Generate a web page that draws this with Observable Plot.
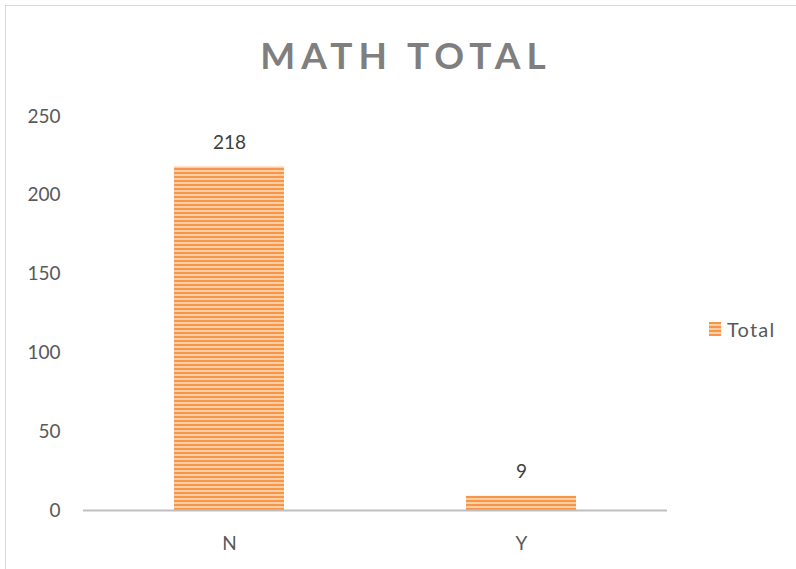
<!DOCTYPE html>
<html>
<head>
<meta charset="utf-8">
<script src="https://cdn.jsdelivr.net/npm/d3@7"></script>
<script src="https://cdn.jsdelivr.net/npm/@observablehq/plot@0.6"></script>
<style>
  html, body { margin: 0; padding: 0; background: #fff; }
  #wrap { position: relative; width: 796px; height: 569px; overflow: hidden; font-family: Lato, "Open Sans", sans-serif; }
  #frame { position: absolute; left: 5px; top: 5px; width: 900px; height: 700px; border: 1px solid #D9D9D9; box-sizing: border-box; }
  #title { position: absolute; left: 6px; width: 800px; top: 32px; text-align: center; font-size: 37px; font-weight: bold; letter-spacing: 6px; color: #7F7F7F; }
  #legend { position: absolute; left: 709px; top: 317px; display: flex; align-items: center; font-size: 20px; letter-spacing: 1.2px; color: #595959; }
  #legend .sw { width: 12px; height: 14px; margin-right: 6px; background: repeating-linear-gradient(to bottom, #F7964A 0px, #F7964A 2px, #FCCEA3 2px, #FCCEA3 4px); }
  #chart { position: absolute; left: 0; top: 0; }
</style>
</head>
<body>
<div id="wrap">
  <div id="frame"></div>
  <div id="chart"></div>
  <div id="title">MATH TOTAL</div>
  <div id="legend"><div class="sw"></div><span>Total</span></div>
</div>
<script>
const categories = ["N", "Y"];
const totals = [218, 9];
const yTicks = [0, 50, 100, 150, 200, 250];

const data = categories.map((c, i) => ({category: c, total: totals[i]}));

const chart = Plot.plot({
  width: 796,
  height: 569,
  marginLeft: 83,
  marginRight: 129,
  marginTop: 116,
  marginBottom: 59,
  style: {fontFamily: "Lato, 'Open Sans', sans-serif", fontSize: "19px", color: "#595959", background: "transparent"},
  x: {domain: categories, label: null, paddingInner: 0.625, paddingOuter: 0.3125, tickSize: 0, tickPadding: 26},
  y: {domain: [0, 250], ticks: yTicks, label: null, tickSize: 0, tickPadding: 23},
  marks: [
    Plot.barY(data, {x: "category", y: "total", fill: "url(#stripes)"}),
    Plot.ruleY([0], {stroke: "#BFBFBF", strokeWidth: 2}),
    Plot.text(data, {x: "category", y: "total", text: d => String(d.total), dy: -24, fill: "#404040", fontSize: 19})
  ]
});

const svg = d3.select(chart);
const defs = svg.insert("defs", ":first-child");
const pat = defs.append("pattern")
  .attr("id", "stripes")
  .attr("patternUnits", "userSpaceOnUse")
  .attr("width", 8)
  .attr("height", 4);
pat.append("rect").attr("width", 8).attr("height", 4).attr("fill", "#FCCEA3");
pat.append("rect").attr("width", 8).attr("height", 2).attr("fill", "#F7964A");

document.getElementById("chart").appendChild(chart);
</script>
</body>
</html>
